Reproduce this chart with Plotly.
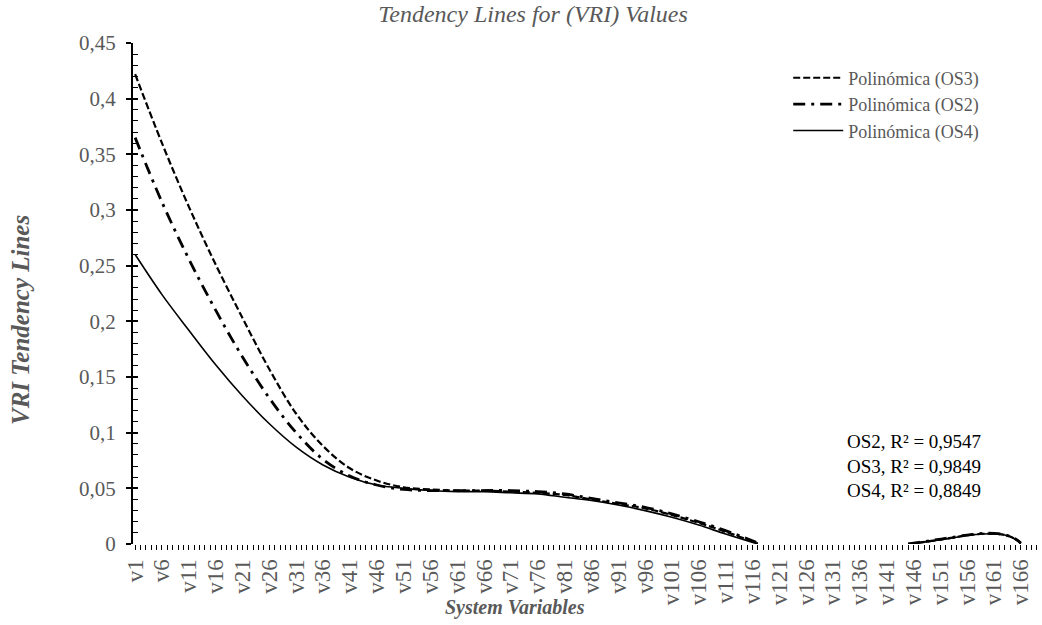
import plotly.graph_objects as go

# ---- data ----
all_categories = [f"v{i}" for i in range(1, 170)]
tick_labels = [f"v{i}" for i in range(1, 167, 5)]

main_points = ["v1", "v6", "v11", "v16", "v21", "v26", "v31", "v36", "v41", "v46",
               "v51", "v56", "v61", "v66", "v71", "v76", "v81", "v86", "v91", "v96",
               "v101", "v106", "v111", "v117"]
os3_main = [0.422, 0.360, 0.303, 0.251, 0.203, 0.157, 0.117, 0.088, 0.068, 0.057,
            0.051, 0.049, 0.048, 0.048, 0.047, 0.046, 0.044, 0.040, 0.036, 0.032,
            0.026, 0.019, 0.011, 0.0005]
os2_main = [0.365, 0.307, 0.256, 0.210, 0.168, 0.131, 0.100, 0.076, 0.061, 0.053,
            0.049, 0.048, 0.048, 0.048, 0.048, 0.047, 0.045, 0.041, 0.037, 0.033,
            0.027, 0.020, 0.012, 0.001]
os4_main = [0.260, 0.224, 0.192, 0.161, 0.133, 0.108, 0.087, 0.071, 0.060, 0.053,
            0.050, 0.048, 0.047, 0.047, 0.046, 0.045, 0.042, 0.039, 0.035, 0.030,
            0.024, 0.017, 0.009, 0.0]

tail_points = ["v145", "v147", "v150", "v153", "v156", "v159", "v161", "v163", "v165", "v166"]
os3_tail = [0.0, 0.0012, 0.0033, 0.0055, 0.0078, 0.0092, 0.0093, 0.0082, 0.0045, 0.0008]
os2_tail = [0.0, 0.0015, 0.0036, 0.0058, 0.0080, 0.0095, 0.0095, 0.0083, 0.0045, 0.0008]
os4_tail = [0.0, 0.0010, 0.0030, 0.0053, 0.0076, 0.0090, 0.0091, 0.0080, 0.0043, 0.0003]

r2_labels = ["OS2, R² = 0,9547", "OS3, R² = 0,9849", "OS4, R² = 0,8849"]

# ---- helpers ----
pos = {c: i for i, c in enumerate(all_categories)}
xs = [pos[c] for c in main_points] + [None] + [pos[c] for c in tail_points]

SERIF = "Liberation Serif, Times New Roman, serif"
GRAY = "#595959"

fig = go.Figure()
fig.add_trace(go.Scatter(x=xs, y=os3_main + [None] + os3_tail, mode="lines",
                         name="Polinómica (OS3)", line_shape="spline",
                         line=dict(color="black", width=2.2, dash="7px,3px")))
fig.add_trace(go.Scatter(x=xs, y=os2_main + [None] + os2_tail, mode="lines",
                         name="Polinómica (OS2)", line_shape="spline",
                         line=dict(color="black", width=2.8, dash="12px,6px,3px,6px")))
fig.add_trace(go.Scatter(x=xs, y=os4_main + [None] + os4_tail, mode="lines",
                         name="Polinómica (OS4)", line_shape="spline",
                         line=dict(color="black", width=1.6)))
# helper trace so the overlay axis (inside ticks) is drawn
fig.add_trace(go.Scatter(x=[None], y=[None], yaxis="y2", showlegend=False,
                         hoverinfo="skip"))

fig.update_layout(
    width=1042, height=625,
    margin=dict(l=133, r=4, t=43, b=81, autoexpand=False),
    paper_bgcolor="white", plot_bgcolor="white",
    separators=",.",
    font=dict(family=SERIF, color=GRAY),
    title=dict(text="<i>Tendency Lines for (VRI) Values</i>",
               font=dict(family=SERIF, size=24, color=GRAY),
               x=533 / 1042, xref="container", xanchor="center",
               y=1 - 14 / 625, yref="container", yanchor="middle"),
    xaxis=dict(range=[-0.4, 168.2], showgrid=False, zeroline=False, showline=False,
               automargin=False,
               tickmode="array", tickvals=[pos[c] for c in tick_labels],
               ticktext=tick_labels, tickangle=-90,
               ticks="outside", ticklen=5, tickwidth=1, tickcolor="black",
               tickfont=dict(family=SERIF, size=23, color=GRAY),
               minor=dict(dtick=1, tick0=0, ticks="outside", ticklen=5,
                          tickwidth=1, tickcolor="black", showgrid=False)),
    yaxis=dict(range=[0, 0.45], dtick=0.05, showgrid=False, zeroline=False,
               automargin=False,
               showline=True, linecolor="black", linewidth=2,
               ticks="outside", ticklen=5, tickwidth=1.5, tickcolor="black",
               ticklabelstandoff=6,
               tickfont=dict(family=SERIF, size=21, color=GRAY)),
    yaxis2=dict(range=[0, 0.45], overlaying="y", side="left", anchor="x",
                automargin=False,
                dtick=0.05, showgrid=False, zeroline=False, showline=False,
                showticklabels=False,
                ticks="inside", ticklen=5, tickwidth=1.5, tickcolor="black",
                minor=dict(dtick=0.01, ticks="inside", ticklen=5, tickwidth=1,
                           tickcolor="black", showgrid=False)),
    legend=dict(x=0.724, y=0.967, xanchor="left", yanchor="top",
                bgcolor="rgba(0,0,0,0)", itemwidth=50,
                font=dict(family=SERIF, size=18, color=GRAY),
                tracegroupgap=0),
    showlegend=True,
)

annotations = [
    dict(text="<b><i>VRI Tendency Lines</i></b>", textangle=-90,
         xref="paper", yref="paper", x=(20 - 133) / 905, y=(544 - 320) / 501,
         xanchor="center", yanchor="middle", showarrow=False,
         font=dict(family=SERIF, size=25, color=GRAY)),
    dict(text="<b><i>System Variables</i></b>",
         xref="paper", yref="paper", x=0.422, y=-0.127,
         xanchor="center", yanchor="middle", showarrow=False,
         font=dict(family=SERIF, size=20, color=GRAY)),
    dict(text="<br>".join(r2_labels), align="left",
         xref="paper", yref="paper", x=0.787, y=(501 - 386) / 501,
         xanchor="left", yanchor="top", showarrow=False,
         font=dict(family=SERIF, size=19, color="black")),
]
fig.update_layout(annotations=annotations)

# remove the browser's default 8px body margin so the figure fills the window
fig.write_html("out.html", config={"displayModeBar": False},
               post_script="document.body.style.margin='0px';")
